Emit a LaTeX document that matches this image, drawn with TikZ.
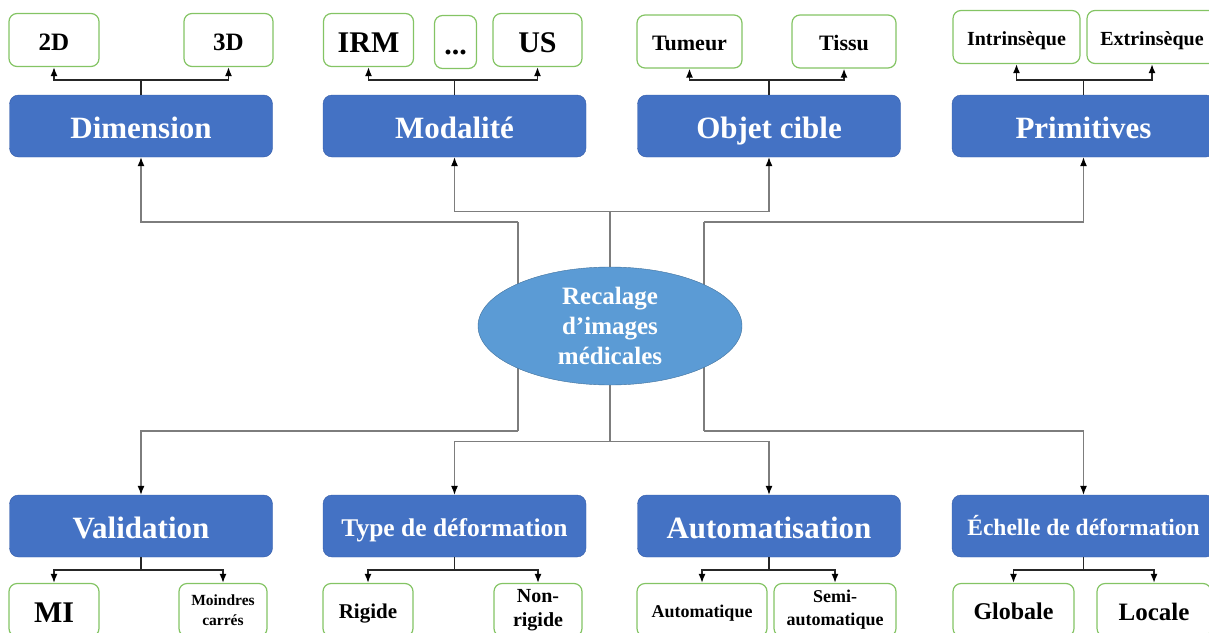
\documentclass[tikz,border=0pt]{standalone}
\usepackage{fontspec}
\setmainfont{Liberation Serif}
\usepackage{xcolor}
\usetikzlibrary{arrows.meta,shapes.geometric,backgrounds}

\definecolor{catblue}{RGB}{68,114,196}
\definecolor{catedge}{RGB}{52,92,168}
\definecolor{hubblue}{RGB}{91,155,213}
\definecolor{hubedge}{RGB}{65,113,156}
\definecolor{leafgreen}{RGB}{132,196,100}
\definecolor{linkgray}{RGB}{125,125,125}

\tikzset{
	szm/.style 2 args = {font=\fontsize{#1}{#2}\selectfont\bfseries},
	sz/.style 2 args = {szm={#1}{#2}, text height=#1*1.0pt, text depth=#1*0.2pt},
	cat/.style = {draw=catedge, fill=catblue, rounded corners=9pt, minimum width=263pt,
		minimum height=62pt, inner sep=0pt, text=white},
	leaf/.style = {draw=leafgreen, line width=1.2pt, fill=white, rounded corners=8pt,
		minimum width=#1, minimum height=53pt, inner sep=0pt, align=center},
	hub/.style = {ellipse, draw=hubedge, fill=hubblue, minimum width=264pt, minimum height=118pt,
		inner sep=0pt, align=center, text=white},
	tip/.style = {-{Latex[black,length=9pt,width=7pt]}},
	link/.style = {draw=linkgray, line width=1.1pt},
	sub/.style = {draw=black!85, line width=1.5pt, tip},
}

\begin{document}
\begin{tikzpicture}[x=1pt, y=-1pt]
	\useasboundingbox (0,0) rectangle (1209,632);
	\clip (0,0) rectangle (1209,632);
	
	% centre
	\node[hub, szm={25}{30}] (hub) at (610,326) {Recalage\\d'images\\médicales};
	
	% categories
	\node[cat, sz={31}{35}] (dim)  at (141,126)    {Dimension};
	\node[cat, sz={31}{35}] (mod)  at (454.5,126)  {Modalité};
	\node[cat, sz={31}{35}] (obj)  at (769,126)    {Objet cible};
	\node[cat, sz={31}{35}] (prim) at (1083.5,126) {Primitives};
	
	\node[cat, sz={31}{35}]   (val)  at (141,526)    {Validation};
	\node[cat, sz={25.5}{29}] (typ)  at (454.5,526)  {Type de déformation};
	\node[cat, sz={31}{35}]   (aut)  at (769,526)    {Automatisation};
	\node[cat, sz={23.5}{28}] (ech)  at (1083.5,526) {Échelle de déformation};
	
	% leaves top
	\node[leaf=90pt,  sz={25}{29}] (d2)   at (54,40)      {2D};
	\node[leaf=89pt,  sz={25}{29}] (d3)   at (228.5,40)   {3D};
	\node[leaf=90pt,  sz={30}{34}] (irm)  at (368.5,40)   {IRM};
	\node[leaf=42pt,  sz={30}{34}] (etc)  at (455.5,42)   {...};
	\node[leaf=89pt,  sz={30}{34}] (us)   at (537.5,40)   {US};
	\node[leaf=105pt, sz={22}{26}] (tum)  at (689.5,41.5) {Tumeur};
	\node[leaf=104pt, sz={22}{26}] (tis)  at (844,41.5)   {Tissu};
	\node[leaf=127pt, sz={20}{24}] (intr) at (1016.5,37)  {Intrinsèque};
	\node[leaf=130pt, sz={20}{24}] (extr) at (1152,37)    {Extrinsèque};
	
	% leaves bottom
	\node[leaf=90pt,  sz={30}{34}]    (mi)    at (54,610)   {MI};
	\node[leaf=88pt,  szm={15.5}{20}] (mc)    at (223,610)  {Moindres\\carrés};
	\node[leaf=90pt,  sz={21}{25}]    (rig)   at (368,610)  {Rigide};
	\node[leaf=88pt,  szm={20}{24}]   (nonr)  at (538,610)  {Non-\\rigide};
	\node[leaf=130pt, sz={18}{22}]    (autom) at (702,610)  {Automatique};
	\node[leaf=122pt, szm={18}{23}]   (semi)  at (835,610)  {Semi-\\automatique};
	\node[leaf=121pt, sz={24}{28}]    (glob)  at (1013.5,610) {Globale};
	\node[leaf=114pt, sz={25}{29}]    (loc)   at (1154,610) {Locale};
	
	% category -> leaves
	\foreach \c/\a/\b in {dim/d2/d3, mod/irm/us, obj/tum/tis, prim/intr/extr}{
		\draw[sub] (\c.north) -- ++(0,-15) -| (\a.south);
		\draw[sub] (\c.north) -- ++(0,-15) -| (\b.south);
	}
	\foreach \c/\a/\b in {val/mi/mc, typ/rig/nonr, aut/autom/semi, ech/glob/loc}{
		\draw[sub] (\c.south) -- ++(0,13) -| (\a.north);
		\draw[sub] (\c.south) -- ++(0,13) -| (\b.north);
	}
	
	% centre -> categories
	\coordinate (lt) at (518,222);
	\coordinate (lb) at (518,431);
	\coordinate (rt) at (704,222);
	\coordinate (rb) at (704,431);
	\begin{scope}[on background layer]
		\draw[link] (lt) -- (lb);
		\draw[link] (rt) -- (rb);
		\draw[link, tip] (lt) -| (dim.south);
		\draw[link, tip] (lb) -| (val.north);
		\draw[link, tip] (rt) -| (prim.south);
		\draw[link, tip] (rb) -| (ech.north);
		\draw[link, tip] (hub.north) -- ++(0,-55) -| (mod.south);
		\draw[link, tip] (hub.north) -- ++(0,-55) -| (obj.south);
		\draw[link, tip] (hub.south) -- ++(0,56) -| (typ.north);
		\draw[link, tip] (hub.south) -- ++(0,56) -| (aut.north);
	\end{scope}
\end{tikzpicture}
\end{document}
